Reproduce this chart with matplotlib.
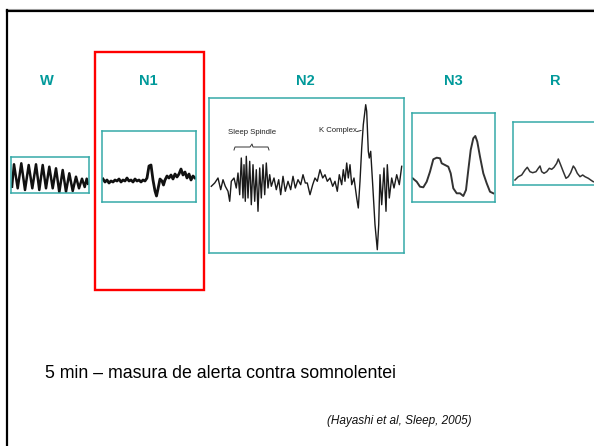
import matplotlib.pyplot as plt
from matplotlib.patches import Rectangle
from matplotlib.lines import Line2D

# slide size in pixels
W_PX, H_PX = 594, 446

# stage labels
stages = ["W", "N1", "N2", "N3", "R"]
label_x = [47, 148, 305, 453, 555]

# EEG traces (sample position, amplitude), box-local pixels
w_t = [1, 3, 6.7, 10.3, 14, 17.7, 21.3, 25, 28.3, 31.7, 35, 38.3, 41.7, 45, 48.3, 51.7,
       55, 58.3, 61.7, 65, 68, 71, 73.7, 75.7, 77]
w_v = [6.3, 28.7, 4.7, 29.7, 3, 28, 4.7, 28.7, 3, 28, 4.7, 26.3, 4.7, 24.7, 0.7, 23,
       1.3, 19.7, 2, 16.3, 4.7, 14.3, 6, 14.3, 9.3]

n1_t = [1, 3, 5, 7, 9, 11, 13, 15, 17, 19, 21, 23, 25, 27, 29, 31, 33, 35, 37, 39, 41,
        43, 45, 47, 49, 51, 53, 54.5, 56, 58, 60, 61.5, 63, 65, 67, 69, 71, 73, 75, 77,
        79, 81, 83, 85, 87, 89, 91, 93]
n1_v = [23, 20, 22, 19, 21, 20, 22, 21, 23, 20, 22, 21, 24, 21, 22, 20, 23, 21, 22, 20,
        22, 21, 24, 36, 37, 22, 11, 6, 13, 23, 21, 17, 22, 26, 24, 27, 23, 28, 25, 28,
        33, 27, 30, 24, 28, 22, 26, 24]

n2_t = [2.3, 5.7, 9, 11.7, 14, 16.3, 19, 20.7, 22.3, 25, 27.3, 29, 30.7, 32.3, 34, 35,
        36.3, 37.3, 39, 40.7, 42.3, 44, 45.7, 47.3, 49, 50.7, 52.3, 54, 55.7, 57.3, 59,
        60.7, 62.3, 65, 67.3, 69.7, 71.7, 74, 76.3, 79, 81.7, 84, 86.3, 89, 91.7, 94,
        96.3, 98.3, 101, 103.7, 106, 108.3, 111, 113.7, 116, 118.3, 121, 123.7, 126,
        128.3, 130.3, 132.7, 134.3, 136, 137.7, 139.3, 141, 142.7, 145, 147.7, 149.3,
        151, 152.7, 154.3, 156.7, 157.7, 159.3, 160.3, 161.7, 163.7, 166, 168.3, 169.7,
        171, 172.7, 175, 177, 178.3, 180.3, 182.7, 185, 187.7, 190.3, 192.7]
n2_v = [66.7, 70, 75, 63.3, 73.3, 66.7, 61.7, 51.7, 71.7, 75, 65, 80, 58.3, 95, 55, 88.3,
        51.7, 96.7, 55, 91.7, 48.3, 88.3, 51.7, 83.3, 41.7, 85, 55, 88.3, 58.3, 90, 65,
        78.3, 66.7, 75, 63.3, 73.3, 58.3, 76.7, 61.7, 71.7, 63.3, 76.7, 65, 73.3, 68.3,
        78.3, 70, 70, 58.3, 68.3, 75, 71.7, 83.3, 75, 78.3, 71.7, 75, 66.7, 71.7, 61.7,
        78.3, 68.3, 83.3, 71.7, 90, 75, 88.3, 68.3, 75, 55, 45, 71.7, 105, 128.3, 148.3,
        141.7, 101.7, 95, 101.7, 68.3, 28.3, 3.3, 28.3, 78.3, 48.3, 85, 41.7, 88.3, 55,
        75, 65, 78.3, 68.3, 86.7]

n3_t = [0.7, 4.7, 8, 11.3, 14.7, 18, 21.3, 24.7, 28, 29.7, 33, 36.3, 38.7, 41.3, 44.7,
        48, 51.3, 54, 56.3, 58.7, 61.3, 63.3, 65.3, 68, 71.3, 74.7, 78, 81.3]
n3_v = [23.7, 20.3, 15.3, 14.7, 20.3, 30.3, 42.7, 44.3, 43.7, 38.7, 37, 35.3, 28.7, 13.7,
        8.7, 8.7, 6, 12, 32, 52, 63.7, 66, 60.3, 45.3, 28.7, 18.7, 10.3, 8.7]

r_t = [2, 5.3, 8.7, 12, 14.3, 17, 19.7, 23, 25.3, 27, 28.7, 31, 33.7, 36.3, 38.7, 41,
       43.7, 45.3, 47.7, 50.3, 53, 55.3, 57.7, 60.3, 62, 64.3, 67, 69.7, 72, 75.3, 78.7,
       80.3]
r_v = [5, 8.3, 10, 15, 17.7, 13.3, 12.3, 13.3, 16.7, 19, 13.3, 11.7, 13.3, 16.7, 15.7,
       17.7, 21.7, 26, 20, 13.3, 6.7, 8.3, 12.3, 19, 16.7, 11.7, 8.3, 10, 8.3, 6.7, 4.3,
       3.3]

TEAL_BOX = "#35aaa8"
TEAL_TXT = "#00999a"

fig = plt.figure(figsize=(W_PX / 100, H_PX / 100), dpi=100)
fig.patch.set_facecolor("white")


def px_axes(x0, y0, x1, y1):
    # axes placed in slide pixel coordinates, box-local pixel data units
    ax = fig.add_axes([x0 / W_PX, 1 - y1 / H_PX, (x1 - x0) / W_PX, (y1 - y0) / H_PX])
    ax.set_xlim(0, x1 - x0)
    ax.set_ylim(0, y1 - y0)
    ax.set_xticks([])
    ax.set_yticks([])
    for s in ax.spines.values():
        s.set_color(TEAL_BOX)
        s.set_linewidth(1.1)
    ax.patch.set_alpha(0)
    return ax


def fx(x):
    return x / W_PX


def fy(y):
    return 1 - y / H_PX


# slide frame (top and left edges)
fig.add_artist(Line2D([fx(6), fx(600)], [fy(9.2), fy(9.2)], color="#b0b0b0", lw=0.8))
fig.add_artist(Line2D([fx(7), fx(600)], [fy(10.6), fy(10.6)], color="black", lw=1.6))
fig.add_artist(Line2D([fx(7), fx(7)], [fy(10), fy(450)], color="black", lw=1.6))

# red highlight round N1
fig.add_artist(Rectangle((fx(95), fy(289.5)), fx(204) - fx(95), fy(52.5) - fy(289.5),
                         fill=False, edgecolor="#ff0000", lw=1.7))

# stage labels
for name, x in zip(stages, label_x):
    fig.text(fx(x), fy(81), name, ha="center", va="center", color=TEAL_TXT,
             fontsize=10.5, fontweight="bold", family="Liberation Sans")

# W
ax_w = px_axes(11, 157, 89, 193)
ax_w.plot(w_t, w_v, color="#111111", lw=1.8, solid_joinstyle="round")

# N1
ax_n1 = px_axes(102, 131, 196, 202)
ax_n1.plot(n1_t, n1_v, color="#111111", lw=2.0, solid_joinstyle="round")

# N2
ax_n2 = px_axes(209, 98, 404, 253)
ax_n2.plot(n2_t, n2_v, color="#1a1a1a", lw=1.0, clip_on=False)
ax_n2.text(43, 120, "Sleep Spindle", ha="center", va="center", fontsize=5.6,
           family=["Liberation Sans Narrow", "Liberation Sans"], color="#222222")
ax_n2.plot([25, 26, 41, 42, 43, 44, 59, 60], [103, 106, 106, 107.5, 109, 106, 106, 103],
           color="#333333", lw=0.7)
ax_n2.text(129, 122, "K Complex", ha="center", va="center", fontsize=5.6,
           family=["Liberation Sans Narrow", "Liberation Sans"], color="#222222")
ax_n2.plot([148, 152], [121.5, 122.5], color="#333333", lw=0.7)

# N3
ax_n3 = px_axes(412, 113, 495, 202)
ax_n3.plot(n3_t, n3_v, color="#333333", lw=1.4, solid_joinstyle="round")

# R
ax_r = px_axes(513, 122, 597, 185)
ax_r.plot(r_t, r_v, color="#333333", lw=1.1, solid_joinstyle="round")

# slide text
fig.text(fx(45), fy(373), "5 min \u2013 masura de alerta contra somnolentei",
         ha="left", va="center", fontsize=12.8, family="Liberation Sans", color="black")
fig.text(fx(327), fy(421), "(Hayashi et al, Sleep, 2005)", ha="left", va="center",
         fontsize=8.5, style="italic", family="Liberation Sans", color="#111111")

fig.savefig("out.png", dpi=100)
